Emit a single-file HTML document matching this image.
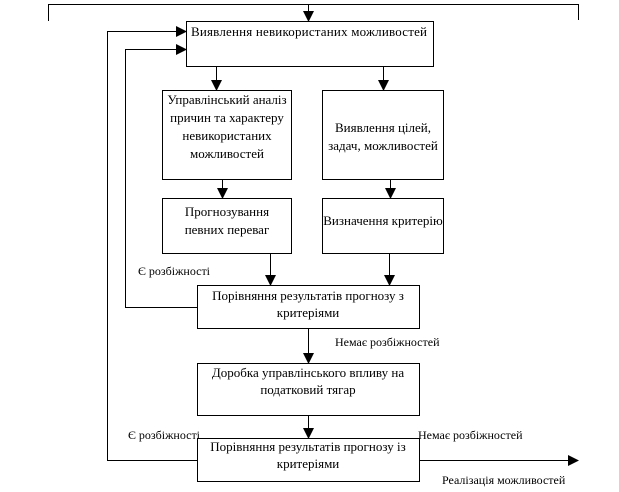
<!DOCTYPE html>
<html><head><meta charset="utf-8"><style>
html,body{margin:0;padding:0;background:#fff;}
svg{display:block}
text{font-family:"Liberation Serif",serif;font-size:12px;fill:#000}
.b{font-size:13px}
</style></head><body>
<svg width="619" height="492" viewBox="0 0 619 492" xmlns="http://www.w3.org/2000/svg">
<defs><marker id="a" markerWidth="11" markerHeight="11" refX="10" refY="5.5" orient="auto" markerUnits="userSpaceOnUse"><path d="M0,0 L11,5.5 L0,11 z" fill="#000"/></marker></defs>
<g stroke="#000" stroke-width="1" fill="none">
<polyline points="48.5,21 48.5,4.5 578.5,4.5 578.5,20"/>
<line x1="308.5" y1="4" x2="308.5" y2="21" marker-end="url(#a)"/>
<rect x="186.5" y="21.5" width="247" height="45"/>
<polyline points="107.5,460.5 107.5,31.5 186,31.5" marker-end="url(#a)"/>
<polyline points="197,307.5 125.5,307.5 125.5,49.5 186,49.5" marker-end="url(#a)"/>
<line x1="216.5" y1="66" x2="216.5" y2="90" marker-end="url(#a)"/>
<line x1="383.5" y1="66" x2="383.5" y2="90" marker-end="url(#a)"/>
<rect x="162.5" y="90.5" width="129" height="89"/>
<rect x="322.5" y="90.5" width="121" height="89"/>
<line x1="222.5" y1="180" x2="222.5" y2="198" marker-end="url(#a)"/>
<line x1="390.5" y1="180" x2="390.5" y2="198" marker-end="url(#a)"/>
<rect x="162.5" y="198.5" width="129" height="55"/>
<rect x="322.5" y="198.5" width="121" height="55"/>
<line x1="270.5" y1="254" x2="270.5" y2="285" marker-end="url(#a)"/>
<line x1="389.5" y1="254" x2="389.5" y2="285" marker-end="url(#a)"/>
<rect x="197.5" y="285.5" width="222" height="43"/>
<line x1="308.5" y1="329" x2="308.5" y2="363" marker-end="url(#a)"/>
<rect x="197.5" y="363.5" width="222" height="52"/>
<line x1="308.5" y1="416" x2="308.5" y2="438" marker-end="url(#a)"/>
<rect x="197.5" y="438.5" width="222" height="43"/>
<line x1="107" y1="460.5" x2="197" y2="460.5"/>
<line x1="420" y1="460.5" x2="578" y2="460.5" marker-end="url(#a)"/>
</g>
<text class="b" x="191" y="36" textLength="236">Виявлення невикористаних можливостей</text>
<g text-anchor="middle">
<text class="b" x="227" y="104">Управлінський аналіз</text>
<text class="b" x="227" y="122">причин та характеру</text>
<text class="b" x="227" y="140">невикористаних</text>
<text class="b" x="227" y="158">можливостей</text>
<text class="b" x="383" y="132">Виявлення цілей,</text>
<text class="b" x="383" y="150">задач, можливостей</text>
<text class="b" x="227" y="216">Прогнозування</text>
<text class="b" x="227" y="234">певних переваг</text>
<text class="b" x="383" y="225">Визначення критерію</text>
<text class="b" x="308" y="300">Порівняння результатів прогнозу з</text>
<text class="b" x="308" y="317">критеріями</text>
<text class="b" x="308" y="377">Доробка управлінського впливу на</text>
<text class="b" x="308" y="394">податковий тягар</text>
<text class="b" x="308" y="451">Порівняння результатів прогнозу із</text>
<text class="b" x="308" y="468">критеріями</text>
</g>
<text x="138" y="275">Є розбіжності</text>
<text x="335" y="346">Немає розбіжностей</text>
<text x="128" y="439">Є розбіжності</text>
<text x="418" y="439">Немає розбіжностей</text>
<text x="442" y="484">Реалізація можливостей</text>
</svg>
</body></html>
